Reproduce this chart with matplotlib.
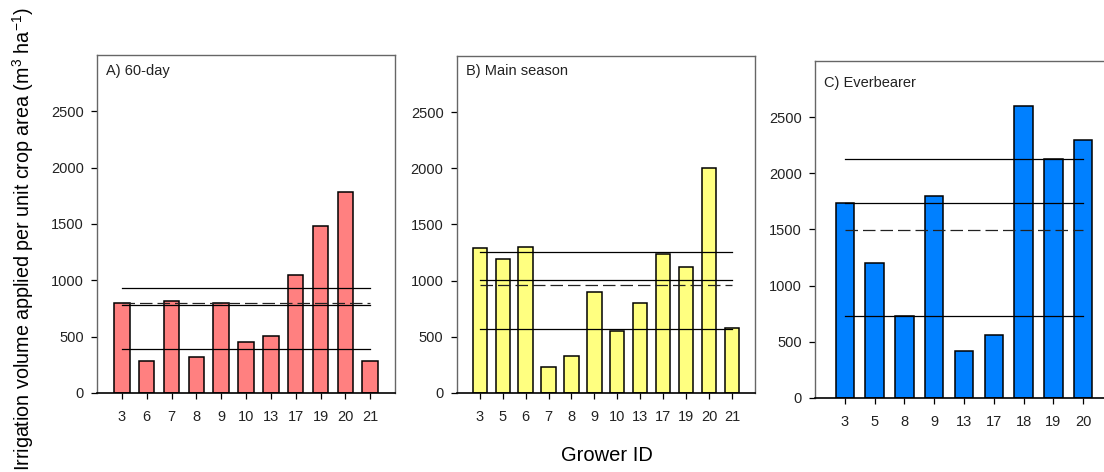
import matplotlib.pyplot as plt

plt.rcParams['font.family'] = ['Liberation Sans', 'DejaVu Sans']
plt.rcParams['mathtext.fontset'] = 'custom'
plt.rcParams['mathtext.rm'] = 'Liberation Sans'
plt.rcParams['mathtext.it'] = 'Liberation Sans'

# A) 60-day
growers_a = ['3', '6', '7', '8', '9', '10', '13', '17', '19', '20', '21']
volume_a = [800, 288, 818, 320, 800, 456, 509, 1044, 1479, 1788, 282]
solid_a = [935, 785, 388]
dashed_a = 796

# B) Main season
growers_b = ['3', '5', '6', '7', '8', '9', '10', '13', '17', '19', '20', '21']
volume_b = [1294, 1194, 1303, 232, 329, 897, 556, 800, 1241, 1118, 2000, 579]
solid_b = [1256, 1006, 571]
dashed_b = 959

# C) Everbearer
growers_c = ['3', '5', '8', '9', '13', '17', '18', '19', '20']
volume_c = [1734, 1198, 728, 1796, 420, 559, 2595, 2130, 2293]
solid_c = [2127, 1734, 728]
dashed_c = 1494

yticks = [0, 500, 1000, 1500, 2000, 2500]

fig = plt.figure(figsize=(11.04, 4.72), dpi=100)


def panel(rect, growers, volume, solid, dashed, color, title, title_y):
    ax = fig.add_axes(rect)
    x = list(range(len(growers)))
    ax.bar(x, volume, width=0.62, color=color, edgecolor='black', linewidth=1.1, zorder=2)
    for v in solid:
        ax.plot([x[0], x[-1]], [v, v], color='black', lw=0.9, zorder=3)
    ax.plot([x[0], x[-1]], [dashed, dashed], color='#222222', lw=0.9,
            dashes=(10, 4), zorder=3)
    ax.set_xlim(-1, len(growers))
    ax.set_ylim(0, 3000)
    ax.set_xticks(x)
    ax.set_xticklabels(growers)
    ax.set_yticks(yticks)
    ax.tick_params(labelsize=10.5, length=4.5, width=0.9, direction='out', pad=5,
                   labelcolor='#222222')
    ax.tick_params(axis='x', pad=8)
    for s in ['left', 'top', 'right']:
        ax.spines[s].set_color('#666666')
        ax.spines[s].set_linewidth(1.0)
    ax.spines['bottom'].set_linewidth(1.2)
    ax.text(0.03, title_y, title, transform=ax.transAxes, fontsize=10.5,
            va='center', ha='left', color='#222222')
    return ax


panel([0.0879, 0.1674, 0.2699, 0.7161], growers_a, volume_a, solid_a, dashed_a,
      '#FF8080', 'A) 60-day', 0.954)
panel([0.4137, 0.1674, 0.2702, 0.7140], growers_b, volume_b, solid_b, dashed_b,
      '#FFFF80', 'B) Main season', 0.954)
panel([0.7382, 0.1568, 0.2699, 0.7140], growers_c, volume_c, solid_c, dashed_c,
      '#0080FF', 'C) Everbearer', 0.935)

fig.text(0.55, 0.035, 'Grower ID', fontsize=14.5, ha='center', va='center')
fig.text(0.021, 0.494, r'Irrigation volume applied per unit crop area (m$^{3}$ ha$^{-1}$)',
         fontsize=14.2, rotation=90, ha='center', va='center')

fig.savefig('out.png', dpi=100)
